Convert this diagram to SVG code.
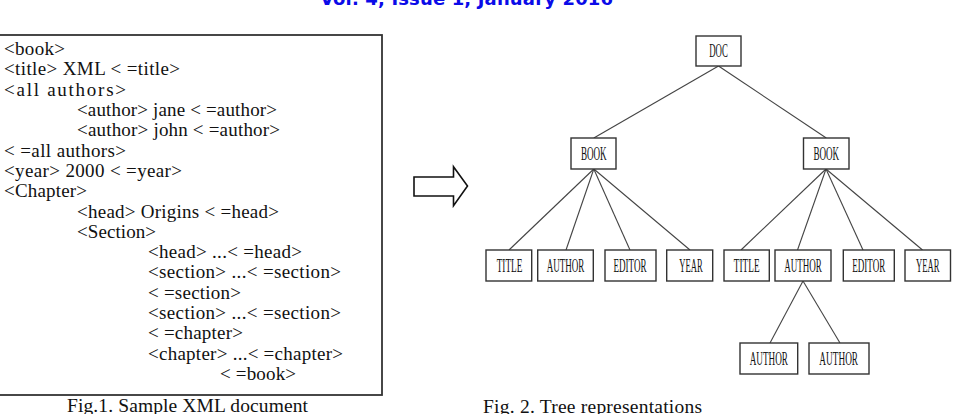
<svg xmlns="http://www.w3.org/2000/svg" width="954" height="414" viewBox="0 0 954 414">
<style>
.code{font-family:"Liberation Serif","Times New Roman",serif;font-size:19px;fill:#111}
.cap{font-family:"Liberation Serif","Times New Roman",serif;font-size:19.5px;fill:#111}
.hdr{font-family:"DejaVu Sans",Verdana,sans-serif;font-weight:bold;font-size:18px;fill:#0b0be8}
.node rect{fill:#fff;stroke:#333;stroke-width:1.4}
.node text{font-family:"Liberation Serif","Times New Roman",serif;font-size:18px;fill:#111;text-anchor:middle}
#connectors line{stroke:#444;stroke-width:1.1}
</style>
<rect width="954" height="414" fill="#fff"/>
<text class="hdr" x="320" y="4.5" textLength="293">Vol. 4, Issue 1, January 2016</text>

<g id="xml-doc">
<rect x="-2" y="35" width="384" height="360" fill="#fff" stroke="#333" stroke-width="1.8"/>
<text class="code" x="4" y="55" textLength="61">&lt;book&gt;</text>
<text class="code" x="4" y="75.3" textLength="176">&lt;title&gt; XML &lt; =title&gt;</text>
<text class="code" x="4" y="95.6" textLength="122">&lt;all authors&gt;</text>
<text class="code" x="77" y="115.9" textLength="200">&lt;author&gt; jane &lt; =author&gt;</text>
<text class="code" x="77" y="136.2" textLength="203">&lt;author&gt; john &lt; =author&gt;</text>
<text class="code" x="4" y="156.5" textLength="122">&lt; =all authors&gt;</text>
<text class="code" x="4" y="176.9" textLength="178">&lt;year&gt; 2000 &lt; =year&gt;</text>
<text class="code" x="4" y="197.2" textLength="83">&lt;Chapter&gt;</text>
<text class="code" x="77" y="217.5" textLength="202">&lt;head&gt; Origins &lt; =head&gt;</text>
<text class="code" x="77" y="237.8" textLength="79">&lt;Section&gt;</text>
<text class="code" x="148" y="258.1" textLength="154">&lt;head&gt; ...&lt; =head&gt;</text>
<text class="code" x="148" y="278.4" textLength="193">&lt;section&gt; ...&lt; =section&gt;</text>
<text class="code" x="148" y="298.7" textLength="93">&lt; =section&gt;</text>
<text class="code" x="148" y="319" textLength="193">&lt;section&gt; ...&lt; =section&gt;</text>
<text class="code" x="148" y="339.3" textLength="95">&lt; =chapter&gt;</text>
<text class="code" x="148" y="359.6" textLength="195">&lt;chapter&gt; ...&lt; =chapter&gt;</text>
<text class="code" x="220" y="380" textLength="76">&lt; =book&gt;</text>
</g>
<text class="cap" x="67" y="412" textLength="241">Fig.1. Sample XML document</text>

<polygon id="arrow" points="414,177 453.5,177 453.5,166.7 467.5,186 453.5,205.7 453.5,196 414,196" fill="#fff" stroke="#111" stroke-width="1.6" stroke-linejoin="miter"/>

<g id="connectors">
<line x1="718.5" y1="66" x2="593.8" y2="138"/>
<line x1="718.5" y1="66" x2="826.3" y2="138"/>
<line x1="593.8" y1="169" x2="509" y2="250"/>
<line x1="593.8" y1="169" x2="566" y2="250"/>
<line x1="593.8" y1="169" x2="630" y2="250"/>
<line x1="593.8" y1="169" x2="690" y2="250"/>
<line x1="826" y1="169" x2="741" y2="250"/>
<line x1="826" y1="169" x2="797.5" y2="250"/>
<line x1="826" y1="169" x2="863" y2="250"/>
<line x1="826" y1="169" x2="922.5" y2="250"/>
<line x1="803" y1="281" x2="770" y2="343"/>
<line x1="803" y1="281" x2="840" y2="343"/>
</g>

<g id="doc" class="node"><rect x="696" y="36" width="45" height="30"/><text transform="translate(718.5,56.5) scale(0.49,1)">DOC</text></g>
<g id="book1" class="node"><rect x="571" y="138" width="45" height="31"/><text transform="translate(593.8,159.5) scale(0.505,1)">BOOK</text></g>
<g id="book2" class="node"><rect x="803.5" y="138" width="45.5" height="31"/><text transform="translate(826.3,159.5) scale(0.505,1)">BOOK</text></g>
<g id="title1" class="node"><rect x="486" y="250" width="45.7" height="31"/><text transform="translate(509.5,271.5) scale(0.514,1)">TITLE</text></g>
<g id="author1" class="node"><rect x="537.7" y="250" width="55.6" height="31"/><text transform="translate(565.5,271.5) scale(0.503,1)">AUTHOR</text></g>
<g id="editor1" class="node"><rect x="605" y="250" width="51" height="31"/><text transform="translate(630,271.5) scale(0.505,1)">EDITOR</text></g>
<g id="year1" class="node"><rect x="666.7" y="250" width="46" height="31"/><text transform="translate(691,271.5) scale(0.478,1)">YEAR</text></g>
<g id="title2" class="node"><rect x="724" y="250" width="45.3" height="31"/><text transform="translate(746.7,271.5) scale(0.514,1)">TITLE</text></g>
<g id="author2" class="node"><rect x="775" y="250" width="56" height="31"/><text transform="translate(803,271.5) scale(0.503,1)">AUTHOR</text></g>
<g id="editor2" class="node"><rect x="843.3" y="250" width="51" height="31"/><text transform="translate(868.8,271.5) scale(0.505,1)">EDITOR</text></g>
<g id="year2" class="node"><rect x="905" y="250" width="45.5" height="31"/><text transform="translate(927.7,271.5) scale(0.478,1)">YEAR</text></g>
<g id="author3" class="node"><rect x="740" y="343" width="57.7" height="31"/><text transform="translate(768.8,364.5) scale(0.51,1)">AUTHOR</text></g>
<g id="author4" class="node"><rect x="809" y="343" width="60" height="31"/><text transform="translate(838.7,364.5) scale(0.516,1)">AUTHOR</text></g>

<text class="cap" x="483" y="412.5" textLength="219">Fig. 2. Tree representations</text>
</svg>
